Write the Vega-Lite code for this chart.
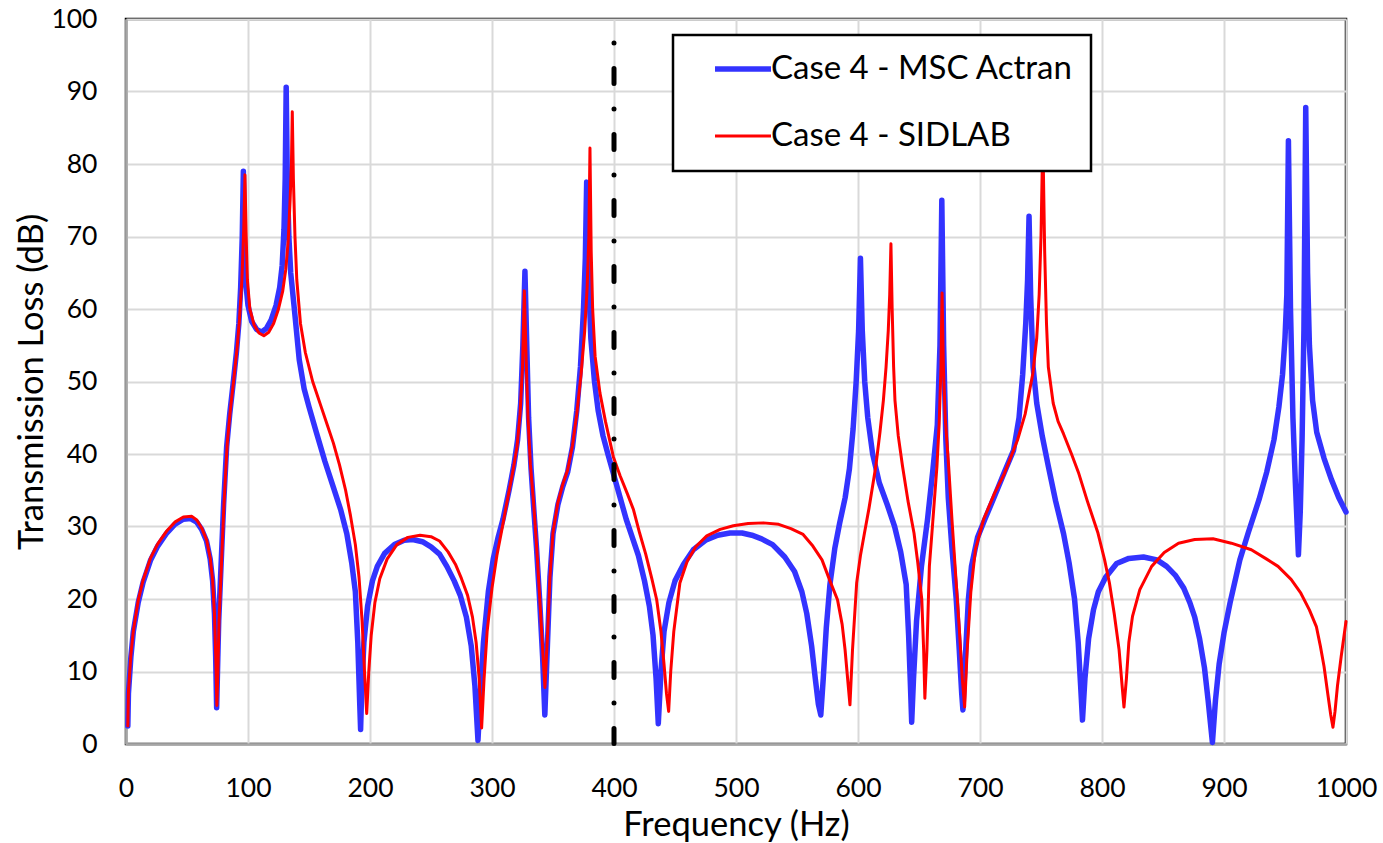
{
  "$schema": "https://vega.github.io/schema/vega-lite/v6.json",
  "width": 1220,
  "height": 725,
  "autosize": {"type": "none"},
  "padding": {"left": 126, "top": 19, "right": 37, "bottom": 99},
  "background": "white",
  "config": {
    "view": {"stroke": "black", "strokeWidth": 2.5},
    "font": "Lato",
    "axis": {
      "labelFont": "Lato",
      "labelFontSize": 26.5,
      "labelColor": "black",
      "titleFont": "Lato",
      "titleFontSize": 34.5,
      "titleFontWeight": "normal",
      "titleColor": "black",
      "ticks": false,
      "domainColor": "#a6a6a6",
      "domainWidth": 2.5,
      "gridColor": "#d9d9d9",
      "gridWidth": 2,
      "labelFlush": false,
      "labelBound": false,
      "labelOverlap": false,
      "format": "d"
    },
    "legend": {
      "orient": "none",
      "legendX": 547,
      "legendY": 16,
      "strokeColor": "black",
      "strokeWidth": 2.5,
      "fillColor": "white",
      "padding": 18,
      "clipHeight": 32,
      "rowPadding": 34,
      "symbolOffset": 21,
      "labelOffset": -3,
      "labelFont": "Lato",
      "labelFontSize": 33,
      "labelColor": "black",
      "labelLimit": 0,
      "symbolType": "stroke",
      "symbolSize": 3136
    }
  },
  "datasets": {
    "tl": [
      {"freq": 1.5, "tl": 2.5, "series": "Case 4 - MSC Actran"},
      {"freq": 2, "tl": 7, "series": "Case 4 - MSC Actran"},
      {"freq": 4, "tl": 12, "series": "Case 4 - MSC Actran"},
      {"freq": 6, "tl": 15.5, "series": "Case 4 - MSC Actran"},
      {"freq": 10, "tl": 19.5, "series": "Case 4 - MSC Actran"},
      {"freq": 14, "tl": 22.3, "series": "Case 4 - MSC Actran"},
      {"freq": 20, "tl": 25.3, "series": "Case 4 - MSC Actran"},
      {"freq": 26, "tl": 27.3, "series": "Case 4 - MSC Actran"},
      {"freq": 33, "tl": 29, "series": "Case 4 - MSC Actran"},
      {"freq": 40, "tl": 30.3, "series": "Case 4 - MSC Actran"},
      {"freq": 47, "tl": 31, "series": "Case 4 - MSC Actran"},
      {"freq": 53, "tl": 31.1, "series": "Case 4 - MSC Actran"},
      {"freq": 58, "tl": 30.6, "series": "Case 4 - MSC Actran"},
      {"freq": 62, "tl": 29.6, "series": "Case 4 - MSC Actran"},
      {"freq": 66, "tl": 28, "series": "Case 4 - MSC Actran"},
      {"freq": 69, "tl": 25.5, "series": "Case 4 - MSC Actran"},
      {"freq": 71, "tl": 22.5, "series": "Case 4 - MSC Actran"},
      {"freq": 72.5, "tl": 18, "series": "Case 4 - MSC Actran"},
      {"freq": 73.5, "tl": 12, "series": "Case 4 - MSC Actran"},
      {"freq": 74.3, "tl": 5, "series": "Case 4 - MSC Actran"},
      {"freq": 75, "tl": 10, "series": "Case 4 - MSC Actran"},
      {"freq": 76, "tl": 17, "series": "Case 4 - MSC Actran"},
      {"freq": 78, "tl": 25, "series": "Case 4 - MSC Actran"},
      {"freq": 80, "tl": 33, "series": "Case 4 - MSC Actran"},
      {"freq": 82.5, "tl": 41, "series": "Case 4 - MSC Actran"},
      {"freq": 85, "tl": 45.5, "series": "Case 4 - MSC Actran"},
      {"freq": 88, "tl": 50, "series": "Case 4 - MSC Actran"},
      {"freq": 90.5, "tl": 54, "series": "Case 4 - MSC Actran"},
      {"freq": 92.5, "tl": 58, "series": "Case 4 - MSC Actran"},
      {"freq": 94, "tl": 63, "series": "Case 4 - MSC Actran"},
      {"freq": 95.3, "tl": 70, "series": "Case 4 - MSC Actran"},
      {"freq": 96.2, "tl": 79, "series": "Case 4 - MSC Actran"},
      {"freq": 97, "tl": 70, "series": "Case 4 - MSC Actran"},
      {"freq": 98, "tl": 64, "series": "Case 4 - MSC Actran"},
      {"freq": 100, "tl": 60.5, "series": "Case 4 - MSC Actran"},
      {"freq": 103, "tl": 58.3, "series": "Case 4 - MSC Actran"},
      {"freq": 107, "tl": 57.2, "series": "Case 4 - MSC Actran"},
      {"freq": 111, "tl": 56.8, "series": "Case 4 - MSC Actran"},
      {"freq": 115, "tl": 57.3, "series": "Case 4 - MSC Actran"},
      {"freq": 119, "tl": 58.5, "series": "Case 4 - MSC Actran"},
      {"freq": 123, "tl": 60.5, "series": "Case 4 - MSC Actran"},
      {"freq": 126, "tl": 63, "series": "Case 4 - MSC Actran"},
      {"freq": 128, "tl": 66, "series": "Case 4 - MSC Actran"},
      {"freq": 129.5, "tl": 71, "series": "Case 4 - MSC Actran"},
      {"freq": 130.5, "tl": 78, "series": "Case 4 - MSC Actran"},
      {"freq": 131.3, "tl": 90.6, "series": "Case 4 - MSC Actran"},
      {"freq": 132.2, "tl": 78, "series": "Case 4 - MSC Actran"},
      {"freq": 133.5, "tl": 70, "series": "Case 4 - MSC Actran"},
      {"freq": 135, "tl": 65, "series": "Case 4 - MSC Actran"},
      {"freq": 138, "tl": 60, "series": "Case 4 - MSC Actran"},
      {"freq": 142, "tl": 53, "series": "Case 4 - MSC Actran"},
      {"freq": 146, "tl": 49, "series": "Case 4 - MSC Actran"},
      {"freq": 150, "tl": 46.5, "series": "Case 4 - MSC Actran"},
      {"freq": 156, "tl": 43, "series": "Case 4 - MSC Actran"},
      {"freq": 163, "tl": 39, "series": "Case 4 - MSC Actran"},
      {"freq": 170, "tl": 35.4, "series": "Case 4 - MSC Actran"},
      {"freq": 176, "tl": 32.3, "series": "Case 4 - MSC Actran"},
      {"freq": 181, "tl": 29, "series": "Case 4 - MSC Actran"},
      {"freq": 185, "tl": 25, "series": "Case 4 - MSC Actran"},
      {"freq": 188, "tl": 21, "series": "Case 4 - MSC Actran"},
      {"freq": 190, "tl": 14, "series": "Case 4 - MSC Actran"},
      {"freq": 191.5, "tl": 6, "series": "Case 4 - MSC Actran"},
      {"freq": 192.3, "tl": 2, "series": "Case 4 - MSC Actran"},
      {"freq": 193.3, "tl": 8, "series": "Case 4 - MSC Actran"},
      {"freq": 195, "tl": 14, "series": "Case 4 - MSC Actran"},
      {"freq": 198, "tl": 19, "series": "Case 4 - MSC Actran"},
      {"freq": 202, "tl": 22.5, "series": "Case 4 - MSC Actran"},
      {"freq": 206, "tl": 24.5, "series": "Case 4 - MSC Actran"},
      {"freq": 212, "tl": 26.3, "series": "Case 4 - MSC Actran"},
      {"freq": 220, "tl": 27.5, "series": "Case 4 - MSC Actran"},
      {"freq": 228, "tl": 28.1, "series": "Case 4 - MSC Actran"},
      {"freq": 235, "tl": 28.2, "series": "Case 4 - MSC Actran"},
      {"freq": 243, "tl": 27.9, "series": "Case 4 - MSC Actran"},
      {"freq": 250, "tl": 27.2, "series": "Case 4 - MSC Actran"},
      {"freq": 257, "tl": 26.2, "series": "Case 4 - MSC Actran"},
      {"freq": 263, "tl": 24.5, "series": "Case 4 - MSC Actran"},
      {"freq": 269, "tl": 22.5, "series": "Case 4 - MSC Actran"},
      {"freq": 274, "tl": 20.5, "series": "Case 4 - MSC Actran"},
      {"freq": 279, "tl": 17.5, "series": "Case 4 - MSC Actran"},
      {"freq": 283, "tl": 13.5, "series": "Case 4 - MSC Actran"},
      {"freq": 286, "tl": 8, "series": "Case 4 - MSC Actran"},
      {"freq": 288.5, "tl": 0.5, "series": "Case 4 - MSC Actran"},
      {"freq": 290.5, "tl": 7, "series": "Case 4 - MSC Actran"},
      {"freq": 293, "tl": 14, "series": "Case 4 - MSC Actran"},
      {"freq": 297, "tl": 21, "series": "Case 4 - MSC Actran"},
      {"freq": 301, "tl": 25.5, "series": "Case 4 - MSC Actran"},
      {"freq": 305, "tl": 28.5, "series": "Case 4 - MSC Actran"},
      {"freq": 309, "tl": 31, "series": "Case 4 - MSC Actran"},
      {"freq": 314, "tl": 35, "series": "Case 4 - MSC Actran"},
      {"freq": 318, "tl": 38.5, "series": "Case 4 - MSC Actran"},
      {"freq": 321, "tl": 42, "series": "Case 4 - MSC Actran"},
      {"freq": 323.5, "tl": 47, "series": "Case 4 - MSC Actran"},
      {"freq": 325.3, "tl": 55, "series": "Case 4 - MSC Actran"},
      {"freq": 327, "tl": 65.2, "series": "Case 4 - MSC Actran"},
      {"freq": 328.5, "tl": 55, "series": "Case 4 - MSC Actran"},
      {"freq": 330, "tl": 45, "series": "Case 4 - MSC Actran"},
      {"freq": 332, "tl": 38, "series": "Case 4 - MSC Actran"},
      {"freq": 334, "tl": 33, "series": "Case 4 - MSC Actran"},
      {"freq": 336.5, "tl": 27, "series": "Case 4 - MSC Actran"},
      {"freq": 339, "tl": 20, "series": "Case 4 - MSC Actran"},
      {"freq": 341.5, "tl": 12, "series": "Case 4 - MSC Actran"},
      {"freq": 343.3, "tl": 4, "series": "Case 4 - MSC Actran"},
      {"freq": 345.5, "tl": 14, "series": "Case 4 - MSC Actran"},
      {"freq": 347.5, "tl": 23, "series": "Case 4 - MSC Actran"},
      {"freq": 350, "tl": 29, "series": "Case 4 - MSC Actran"},
      {"freq": 354, "tl": 33, "series": "Case 4 - MSC Actran"},
      {"freq": 358, "tl": 35.5, "series": "Case 4 - MSC Actran"},
      {"freq": 362, "tl": 37.5, "series": "Case 4 - MSC Actran"},
      {"freq": 366, "tl": 41, "series": "Case 4 - MSC Actran"},
      {"freq": 369.5, "tl": 46, "series": "Case 4 - MSC Actran"},
      {"freq": 372.5, "tl": 52, "series": "Case 4 - MSC Actran"},
      {"freq": 375, "tl": 60, "series": "Case 4 - MSC Actran"},
      {"freq": 376.5, "tl": 67, "series": "Case 4 - MSC Actran"},
      {"freq": 377.6, "tl": 77.5, "series": "Case 4 - MSC Actran"},
      {"freq": 379, "tl": 65, "series": "Case 4 - MSC Actran"},
      {"freq": 381, "tl": 56, "series": "Case 4 - MSC Actran"},
      {"freq": 384, "tl": 50, "series": "Case 4 - MSC Actran"},
      {"freq": 387, "tl": 46, "series": "Case 4 - MSC Actran"},
      {"freq": 391, "tl": 42.5, "series": "Case 4 - MSC Actran"},
      {"freq": 395, "tl": 40, "series": "Case 4 - MSC Actran"},
      {"freq": 400, "tl": 37, "series": "Case 4 - MSC Actran"},
      {"freq": 405, "tl": 34, "series": "Case 4 - MSC Actran"},
      {"freq": 410, "tl": 31, "series": "Case 4 - MSC Actran"},
      {"freq": 415, "tl": 28.5, "series": "Case 4 - MSC Actran"},
      {"freq": 420, "tl": 26, "series": "Case 4 - MSC Actran"},
      {"freq": 425, "tl": 22.5, "series": "Case 4 - MSC Actran"},
      {"freq": 429, "tl": 19, "series": "Case 4 - MSC Actran"},
      {"freq": 432, "tl": 15, "series": "Case 4 - MSC Actran"},
      {"freq": 434.5, "tl": 9, "series": "Case 4 - MSC Actran"},
      {"freq": 436.3, "tl": 2.8, "series": "Case 4 - MSC Actran"},
      {"freq": 438.5, "tl": 10, "series": "Case 4 - MSC Actran"},
      {"freq": 441, "tl": 15.5, "series": "Case 4 - MSC Actran"},
      {"freq": 445, "tl": 19.5, "series": "Case 4 - MSC Actran"},
      {"freq": 450, "tl": 22.5, "series": "Case 4 - MSC Actran"},
      {"freq": 457, "tl": 24.8, "series": "Case 4 - MSC Actran"},
      {"freq": 465, "tl": 26.8, "series": "Case 4 - MSC Actran"},
      {"freq": 475, "tl": 28.1, "series": "Case 4 - MSC Actran"},
      {"freq": 485, "tl": 28.8, "series": "Case 4 - MSC Actran"},
      {"freq": 495, "tl": 29.1, "series": "Case 4 - MSC Actran"},
      {"freq": 505, "tl": 29.1, "series": "Case 4 - MSC Actran"},
      {"freq": 513, "tl": 28.8, "series": "Case 4 - MSC Actran"},
      {"freq": 521, "tl": 28.3, "series": "Case 4 - MSC Actran"},
      {"freq": 530, "tl": 27.5, "series": "Case 4 - MSC Actran"},
      {"freq": 540, "tl": 25.8, "series": "Case 4 - MSC Actran"},
      {"freq": 548, "tl": 23.8, "series": "Case 4 - MSC Actran"},
      {"freq": 554, "tl": 21, "series": "Case 4 - MSC Actran"},
      {"freq": 558, "tl": 18, "series": "Case 4 - MSC Actran"},
      {"freq": 562, "tl": 13.5, "series": "Case 4 - MSC Actran"},
      {"freq": 565, "tl": 9, "series": "Case 4 - MSC Actran"},
      {"freq": 567.5, "tl": 5.5, "series": "Case 4 - MSC Actran"},
      {"freq": 569.5, "tl": 4, "series": "Case 4 - MSC Actran"},
      {"freq": 571.5, "tl": 9, "series": "Case 4 - MSC Actran"},
      {"freq": 574, "tl": 16, "series": "Case 4 - MSC Actran"},
      {"freq": 577, "tl": 22, "series": "Case 4 - MSC Actran"},
      {"freq": 581, "tl": 27, "series": "Case 4 - MSC Actran"},
      {"freq": 585, "tl": 30.5, "series": "Case 4 - MSC Actran"},
      {"freq": 589.5, "tl": 34, "series": "Case 4 - MSC Actran"},
      {"freq": 593, "tl": 38, "series": "Case 4 - MSC Actran"},
      {"freq": 596, "tl": 43.5, "series": "Case 4 - MSC Actran"},
      {"freq": 598.5, "tl": 50, "series": "Case 4 - MSC Actran"},
      {"freq": 600.5, "tl": 57, "series": "Case 4 - MSC Actran"},
      {"freq": 602, "tl": 67, "series": "Case 4 - MSC Actran"},
      {"freq": 603.5, "tl": 57, "series": "Case 4 - MSC Actran"},
      {"freq": 605.5, "tl": 50, "series": "Case 4 - MSC Actran"},
      {"freq": 608, "tl": 45, "series": "Case 4 - MSC Actran"},
      {"freq": 612, "tl": 40, "series": "Case 4 - MSC Actran"},
      {"freq": 617.5, "tl": 36, "series": "Case 4 - MSC Actran"},
      {"freq": 624, "tl": 33, "series": "Case 4 - MSC Actran"},
      {"freq": 630, "tl": 30, "series": "Case 4 - MSC Actran"},
      {"freq": 635, "tl": 26.5, "series": "Case 4 - MSC Actran"},
      {"freq": 639.5, "tl": 22, "series": "Case 4 - MSC Actran"},
      {"freq": 641.5, "tl": 15, "series": "Case 4 - MSC Actran"},
      {"freq": 643, "tl": 8, "series": "Case 4 - MSC Actran"},
      {"freq": 644, "tl": 3, "series": "Case 4 - MSC Actran"},
      {"freq": 645.5, "tl": 9, "series": "Case 4 - MSC Actran"},
      {"freq": 648, "tl": 17, "series": "Case 4 - MSC Actran"},
      {"freq": 652, "tl": 24.5, "series": "Case 4 - MSC Actran"},
      {"freq": 657, "tl": 31, "series": "Case 4 - MSC Actran"},
      {"freq": 661.5, "tl": 38, "series": "Case 4 - MSC Actran"},
      {"freq": 665, "tl": 44, "series": "Case 4 - MSC Actran"},
      {"freq": 667.2, "tl": 55, "series": "Case 4 - MSC Actran"},
      {"freq": 668.7, "tl": 75, "series": "Case 4 - MSC Actran"},
      {"freq": 670.2, "tl": 55, "series": "Case 4 - MSC Actran"},
      {"freq": 672, "tl": 42, "series": "Case 4 - MSC Actran"},
      {"freq": 674, "tl": 34, "series": "Case 4 - MSC Actran"},
      {"freq": 677, "tl": 27, "series": "Case 4 - MSC Actran"},
      {"freq": 680.5, "tl": 20, "series": "Case 4 - MSC Actran"},
      {"freq": 683, "tl": 13, "series": "Case 4 - MSC Actran"},
      {"freq": 685, "tl": 7, "series": "Case 4 - MSC Actran"},
      {"freq": 686, "tl": 4.7, "series": "Case 4 - MSC Actran"},
      {"freq": 688, "tl": 12, "series": "Case 4 - MSC Actran"},
      {"freq": 690.5, "tl": 20, "series": "Case 4 - MSC Actran"},
      {"freq": 693, "tl": 24.5, "series": "Case 4 - MSC Actran"},
      {"freq": 698, "tl": 28.5, "series": "Case 4 - MSC Actran"},
      {"freq": 704, "tl": 31, "series": "Case 4 - MSC Actran"},
      {"freq": 712, "tl": 34.2, "series": "Case 4 - MSC Actran"},
      {"freq": 720, "tl": 37.5, "series": "Case 4 - MSC Actran"},
      {"freq": 727.5, "tl": 40.5, "series": "Case 4 - MSC Actran"},
      {"freq": 732, "tl": 45, "series": "Case 4 - MSC Actran"},
      {"freq": 735, "tl": 51, "series": "Case 4 - MSC Actran"},
      {"freq": 737.5, "tl": 58, "series": "Case 4 - MSC Actran"},
      {"freq": 739, "tl": 64, "series": "Case 4 - MSC Actran"},
      {"freq": 740.2, "tl": 72.8, "series": "Case 4 - MSC Actran"},
      {"freq": 741.5, "tl": 62, "series": "Case 4 - MSC Actran"},
      {"freq": 743.5, "tl": 52, "series": "Case 4 - MSC Actran"},
      {"freq": 746.5, "tl": 47, "series": "Case 4 - MSC Actran"},
      {"freq": 751, "tl": 42.5, "series": "Case 4 - MSC Actran"},
      {"freq": 756, "tl": 38.3, "series": "Case 4 - MSC Actran"},
      {"freq": 762, "tl": 33.5, "series": "Case 4 - MSC Actran"},
      {"freq": 768.5, "tl": 29, "series": "Case 4 - MSC Actran"},
      {"freq": 773, "tl": 25, "series": "Case 4 - MSC Actran"},
      {"freq": 777.5, "tl": 20, "series": "Case 4 - MSC Actran"},
      {"freq": 780.5, "tl": 14, "series": "Case 4 - MSC Actran"},
      {"freq": 782.5, "tl": 8, "series": "Case 4 - MSC Actran"},
      {"freq": 784, "tl": 3.3, "series": "Case 4 - MSC Actran"},
      {"freq": 786, "tl": 9, "series": "Case 4 - MSC Actran"},
      {"freq": 789, "tl": 14.5, "series": "Case 4 - MSC Actran"},
      {"freq": 793, "tl": 18.5, "series": "Case 4 - MSC Actran"},
      {"freq": 797, "tl": 21, "series": "Case 4 - MSC Actran"},
      {"freq": 803, "tl": 23, "series": "Case 4 - MSC Actran"},
      {"freq": 812, "tl": 24.9, "series": "Case 4 - MSC Actran"},
      {"freq": 822, "tl": 25.6, "series": "Case 4 - MSC Actran"},
      {"freq": 834, "tl": 25.8, "series": "Case 4 - MSC Actran"},
      {"freq": 845, "tl": 25.4, "series": "Case 4 - MSC Actran"},
      {"freq": 853, "tl": 24.5, "series": "Case 4 - MSC Actran"},
      {"freq": 860, "tl": 23.3, "series": "Case 4 - MSC Actran"},
      {"freq": 867, "tl": 21.5, "series": "Case 4 - MSC Actran"},
      {"freq": 872, "tl": 19.5, "series": "Case 4 - MSC Actran"},
      {"freq": 876, "tl": 17.5, "series": "Case 4 - MSC Actran"},
      {"freq": 880, "tl": 14.5, "series": "Case 4 - MSC Actran"},
      {"freq": 884, "tl": 10.5, "series": "Case 4 - MSC Actran"},
      {"freq": 887, "tl": 6, "series": "Case 4 - MSC Actran"},
      {"freq": 890.5, "tl": 0.2, "series": "Case 4 - MSC Actran"},
      {"freq": 893, "tl": 6, "series": "Case 4 - MSC Actran"},
      {"freq": 896, "tl": 11, "series": "Case 4 - MSC Actran"},
      {"freq": 900, "tl": 15.3, "series": "Case 4 - MSC Actran"},
      {"freq": 905, "tl": 19.5, "series": "Case 4 - MSC Actran"},
      {"freq": 913, "tl": 25.4, "series": "Case 4 - MSC Actran"},
      {"freq": 920, "tl": 29.2, "series": "Case 4 - MSC Actran"},
      {"freq": 928.7, "tl": 33.7, "series": "Case 4 - MSC Actran"},
      {"freq": 935, "tl": 37.5, "series": "Case 4 - MSC Actran"},
      {"freq": 941, "tl": 42, "series": "Case 4 - MSC Actran"},
      {"freq": 945, "tl": 46.5, "series": "Case 4 - MSC Actran"},
      {"freq": 948, "tl": 51, "series": "Case 4 - MSC Actran"},
      {"freq": 950, "tl": 56, "series": "Case 4 - MSC Actran"},
      {"freq": 951.5, "tl": 62, "series": "Case 4 - MSC Actran"},
      {"freq": 952.8, "tl": 83.2, "series": "Case 4 - MSC Actran"},
      {"freq": 954.5, "tl": 60, "series": "Case 4 - MSC Actran"},
      {"freq": 956.5, "tl": 45, "series": "Case 4 - MSC Actran"},
      {"freq": 958.5, "tl": 36, "series": "Case 4 - MSC Actran"},
      {"freq": 960, "tl": 30, "series": "Case 4 - MSC Actran"},
      {"freq": 961, "tl": 26.1, "series": "Case 4 - MSC Actran"},
      {"freq": 962.5, "tl": 32, "series": "Case 4 - MSC Actran"},
      {"freq": 964, "tl": 42, "series": "Case 4 - MSC Actran"},
      {"freq": 965.5, "tl": 57, "series": "Case 4 - MSC Actran"},
      {"freq": 967, "tl": 87.8, "series": "Case 4 - MSC Actran"},
      {"freq": 968.5, "tl": 65, "series": "Case 4 - MSC Actran"},
      {"freq": 970, "tl": 55, "series": "Case 4 - MSC Actran"},
      {"freq": 972.6, "tl": 47.4, "series": "Case 4 - MSC Actran"},
      {"freq": 976, "tl": 43, "series": "Case 4 - MSC Actran"},
      {"freq": 982, "tl": 39.4, "series": "Case 4 - MSC Actran"},
      {"freq": 988, "tl": 36.5, "series": "Case 4 - MSC Actran"},
      {"freq": 994, "tl": 34, "series": "Case 4 - MSC Actran"},
      {"freq": 1000, "tl": 32, "series": "Case 4 - MSC Actran"},

      {"freq": 1.5, "tl": 2.5, "series": "Case 4 - SIDLAB"},
      {"freq": 2, "tl": 7.2, "series": "Case 4 - SIDLAB"},
      {"freq": 4, "tl": 12.3, "series": "Case 4 - SIDLAB"},
      {"freq": 6, "tl": 15.6, "series": "Case 4 - SIDLAB"},
      {"freq": 10, "tl": 19.8, "series": "Case 4 - SIDLAB"},
      {"freq": 14, "tl": 22.6, "series": "Case 4 - SIDLAB"},
      {"freq": 20, "tl": 25.6, "series": "Case 4 - SIDLAB"},
      {"freq": 26, "tl": 27.6, "series": "Case 4 - SIDLAB"},
      {"freq": 33, "tl": 29.3, "series": "Case 4 - SIDLAB"},
      {"freq": 40, "tl": 30.6, "series": "Case 4 - SIDLAB"},
      {"freq": 47, "tl": 31.3, "series": "Case 4 - SIDLAB"},
      {"freq": 54, "tl": 31.4, "series": "Case 4 - SIDLAB"},
      {"freq": 58, "tl": 30.9, "series": "Case 4 - SIDLAB"},
      {"freq": 62, "tl": 29.8, "series": "Case 4 - SIDLAB"},
      {"freq": 66, "tl": 28.2, "series": "Case 4 - SIDLAB"},
      {"freq": 69, "tl": 25.7, "series": "Case 4 - SIDLAB"},
      {"freq": 71, "tl": 22.6, "series": "Case 4 - SIDLAB"},
      {"freq": 72.5, "tl": 18, "series": "Case 4 - SIDLAB"},
      {"freq": 73.6, "tl": 12, "series": "Case 4 - SIDLAB"},
      {"freq": 74.5, "tl": 5.3, "series": "Case 4 - SIDLAB"},
      {"freq": 75.3, "tl": 10, "series": "Case 4 - SIDLAB"},
      {"freq": 76.3, "tl": 17, "series": "Case 4 - SIDLAB"},
      {"freq": 78.3, "tl": 25, "series": "Case 4 - SIDLAB"},
      {"freq": 80.3, "tl": 33, "series": "Case 4 - SIDLAB"},
      {"freq": 83, "tl": 41.5, "series": "Case 4 - SIDLAB"},
      {"freq": 85.5, "tl": 46, "series": "Case 4 - SIDLAB"},
      {"freq": 88.5, "tl": 50.5, "series": "Case 4 - SIDLAB"},
      {"freq": 91, "tl": 54.5, "series": "Case 4 - SIDLAB"},
      {"freq": 93, "tl": 58.5, "series": "Case 4 - SIDLAB"},
      {"freq": 95, "tl": 64, "series": "Case 4 - SIDLAB"},
      {"freq": 96.5, "tl": 71, "series": "Case 4 - SIDLAB"},
      {"freq": 97.5, "tl": 78.5, "series": "Case 4 - SIDLAB"},
      {"freq": 98.5, "tl": 70, "series": "Case 4 - SIDLAB"},
      {"freq": 99.5, "tl": 64, "series": "Case 4 - SIDLAB"},
      {"freq": 101.5, "tl": 60, "series": "Case 4 - SIDLAB"},
      {"freq": 105, "tl": 57.8, "series": "Case 4 - SIDLAB"},
      {"freq": 109, "tl": 56.7, "series": "Case 4 - SIDLAB"},
      {"freq": 113, "tl": 56.3, "series": "Case 4 - SIDLAB"},
      {"freq": 117, "tl": 56.8, "series": "Case 4 - SIDLAB"},
      {"freq": 121, "tl": 58, "series": "Case 4 - SIDLAB"},
      {"freq": 125, "tl": 60, "series": "Case 4 - SIDLAB"},
      {"freq": 128.5, "tl": 62.5, "series": "Case 4 - SIDLAB"},
      {"freq": 131, "tl": 65.5, "series": "Case 4 - SIDLAB"},
      {"freq": 133, "tl": 69.5, "series": "Case 4 - SIDLAB"},
      {"freq": 134.5, "tl": 75, "series": "Case 4 - SIDLAB"},
      {"freq": 135.6, "tl": 80, "series": "Case 4 - SIDLAB"},
      {"freq": 136.3, "tl": 87.2, "series": "Case 4 - SIDLAB"},
      {"freq": 137.2, "tl": 78, "series": "Case 4 - SIDLAB"},
      {"freq": 138.5, "tl": 70, "series": "Case 4 - SIDLAB"},
      {"freq": 140, "tl": 64, "series": "Case 4 - SIDLAB"},
      {"freq": 143, "tl": 58, "series": "Case 4 - SIDLAB"},
      {"freq": 147, "tl": 54, "series": "Case 4 - SIDLAB"},
      {"freq": 153, "tl": 50, "series": "Case 4 - SIDLAB"},
      {"freq": 160, "tl": 46.5, "series": "Case 4 - SIDLAB"},
      {"freq": 165, "tl": 44, "series": "Case 4 - SIDLAB"},
      {"freq": 170, "tl": 41.5, "series": "Case 4 - SIDLAB"},
      {"freq": 175, "tl": 38.5, "series": "Case 4 - SIDLAB"},
      {"freq": 180, "tl": 35, "series": "Case 4 - SIDLAB"},
      {"freq": 184, "tl": 31.5, "series": "Case 4 - SIDLAB"},
      {"freq": 188, "tl": 27.5, "series": "Case 4 - SIDLAB"},
      {"freq": 191, "tl": 23, "series": "Case 4 - SIDLAB"},
      {"freq": 193.5, "tl": 17, "series": "Case 4 - SIDLAB"},
      {"freq": 195.5, "tl": 10, "series": "Case 4 - SIDLAB"},
      {"freq": 197.3, "tl": 4.2, "series": "Case 4 - SIDLAB"},
      {"freq": 199, "tl": 10, "series": "Case 4 - SIDLAB"},
      {"freq": 201, "tl": 15, "series": "Case 4 - SIDLAB"},
      {"freq": 204, "tl": 19.5, "series": "Case 4 - SIDLAB"},
      {"freq": 208, "tl": 22.8, "series": "Case 4 - SIDLAB"},
      {"freq": 214, "tl": 25.5, "series": "Case 4 - SIDLAB"},
      {"freq": 222, "tl": 27.5, "series": "Case 4 - SIDLAB"},
      {"freq": 231, "tl": 28.5, "series": "Case 4 - SIDLAB"},
      {"freq": 241, "tl": 28.8, "series": "Case 4 - SIDLAB"},
      {"freq": 250, "tl": 28.6, "series": "Case 4 - SIDLAB"},
      {"freq": 257, "tl": 28, "series": "Case 4 - SIDLAB"},
      {"freq": 264, "tl": 26.5, "series": "Case 4 - SIDLAB"},
      {"freq": 270, "tl": 24.8, "series": "Case 4 - SIDLAB"},
      {"freq": 275, "tl": 22.8, "series": "Case 4 - SIDLAB"},
      {"freq": 280, "tl": 20.5, "series": "Case 4 - SIDLAB"},
      {"freq": 284, "tl": 17.5, "series": "Case 4 - SIDLAB"},
      {"freq": 287, "tl": 14, "series": "Case 4 - SIDLAB"},
      {"freq": 289.5, "tl": 9, "series": "Case 4 - SIDLAB"},
      {"freq": 291.5, "tl": 2.2, "series": "Case 4 - SIDLAB"},
      {"freq": 293.5, "tl": 9, "series": "Case 4 - SIDLAB"},
      {"freq": 296, "tl": 15.5, "series": "Case 4 - SIDLAB"},
      {"freq": 300, "tl": 21.5, "series": "Case 4 - SIDLAB"},
      {"freq": 304, "tl": 26, "series": "Case 4 - SIDLAB"},
      {"freq": 308, "tl": 29.5, "series": "Case 4 - SIDLAB"},
      {"freq": 313, "tl": 34, "series": "Case 4 - SIDLAB"},
      {"freq": 317, "tl": 37.5, "series": "Case 4 - SIDLAB"},
      {"freq": 320.5, "tl": 41, "series": "Case 4 - SIDLAB"},
      {"freq": 323, "tl": 45.5, "series": "Case 4 - SIDLAB"},
      {"freq": 325, "tl": 52, "series": "Case 4 - SIDLAB"},
      {"freq": 326.5, "tl": 62.5, "series": "Case 4 - SIDLAB"},
      {"freq": 328, "tl": 53, "series": "Case 4 - SIDLAB"},
      {"freq": 329.5, "tl": 45, "series": "Case 4 - SIDLAB"},
      {"freq": 331.5, "tl": 38.5, "series": "Case 4 - SIDLAB"},
      {"freq": 334, "tl": 33.5, "series": "Case 4 - SIDLAB"},
      {"freq": 336.5, "tl": 27.5, "series": "Case 4 - SIDLAB"},
      {"freq": 339, "tl": 20.5, "series": "Case 4 - SIDLAB"},
      {"freq": 341.5, "tl": 13, "series": "Case 4 - SIDLAB"},
      {"freq": 343.4, "tl": 7.8, "series": "Case 4 - SIDLAB"},
      {"freq": 345.5, "tl": 15, "series": "Case 4 - SIDLAB"},
      {"freq": 347.5, "tl": 23, "series": "Case 4 - SIDLAB"},
      {"freq": 350, "tl": 29.2, "series": "Case 4 - SIDLAB"},
      {"freq": 354, "tl": 33.3, "series": "Case 4 - SIDLAB"},
      {"freq": 358, "tl": 35.8, "series": "Case 4 - SIDLAB"},
      {"freq": 362, "tl": 37.8, "series": "Case 4 - SIDLAB"},
      {"freq": 366, "tl": 41.2, "series": "Case 4 - SIDLAB"},
      {"freq": 369.5, "tl": 45.5, "series": "Case 4 - SIDLAB"},
      {"freq": 373, "tl": 51, "series": "Case 4 - SIDLAB"},
      {"freq": 376, "tl": 57, "series": "Case 4 - SIDLAB"},
      {"freq": 378, "tl": 63, "series": "Case 4 - SIDLAB"},
      {"freq": 379.4, "tl": 70, "series": "Case 4 - SIDLAB"},
      {"freq": 380.3, "tl": 82.2, "series": "Case 4 - SIDLAB"},
      {"freq": 381.3, "tl": 68, "series": "Case 4 - SIDLAB"},
      {"freq": 382.5, "tl": 60, "series": "Case 4 - SIDLAB"},
      {"freq": 384.5, "tl": 53.5, "series": "Case 4 - SIDLAB"},
      {"freq": 388.5, "tl": 48.4, "series": "Case 4 - SIDLAB"},
      {"freq": 393, "tl": 44.5, "series": "Case 4 - SIDLAB"},
      {"freq": 399.5, "tl": 39.6, "series": "Case 4 - SIDLAB"},
      {"freq": 405, "tl": 37, "series": "Case 4 - SIDLAB"},
      {"freq": 411, "tl": 34.5, "series": "Case 4 - SIDLAB"},
      {"freq": 416, "tl": 32.3, "series": "Case 4 - SIDLAB"},
      {"freq": 421, "tl": 29.1, "series": "Case 4 - SIDLAB"},
      {"freq": 426, "tl": 26.2, "series": "Case 4 - SIDLAB"},
      {"freq": 431, "tl": 22.8, "series": "Case 4 - SIDLAB"},
      {"freq": 435, "tl": 19.9, "series": "Case 4 - SIDLAB"},
      {"freq": 438.5, "tl": 15.5, "series": "Case 4 - SIDLAB"},
      {"freq": 441, "tl": 11, "series": "Case 4 - SIDLAB"},
      {"freq": 443, "tl": 7, "series": "Case 4 - SIDLAB"},
      {"freq": 444.8, "tl": 4.5, "series": "Case 4 - SIDLAB"},
      {"freq": 446.5, "tl": 10, "series": "Case 4 - SIDLAB"},
      {"freq": 449, "tl": 15.5, "series": "Case 4 - SIDLAB"},
      {"freq": 454, "tl": 22.2, "series": "Case 4 - SIDLAB"},
      {"freq": 460, "tl": 25.2, "series": "Case 4 - SIDLAB"},
      {"freq": 467, "tl": 27.2, "series": "Case 4 - SIDLAB"},
      {"freq": 476, "tl": 28.7, "series": "Case 4 - SIDLAB"},
      {"freq": 487, "tl": 29.6, "series": "Case 4 - SIDLAB"},
      {"freq": 497.8, "tl": 30.1, "series": "Case 4 - SIDLAB"},
      {"freq": 510, "tl": 30.4, "series": "Case 4 - SIDLAB"},
      {"freq": 522.4, "tl": 30.5, "series": "Case 4 - SIDLAB"},
      {"freq": 535, "tl": 30.3, "series": "Case 4 - SIDLAB"},
      {"freq": 545, "tl": 29.7, "series": "Case 4 - SIDLAB"},
      {"freq": 555, "tl": 28.9, "series": "Case 4 - SIDLAB"},
      {"freq": 563, "tl": 27.3, "series": "Case 4 - SIDLAB"},
      {"freq": 570.5, "tl": 25.4, "series": "Case 4 - SIDLAB"},
      {"freq": 577, "tl": 22.5, "series": "Case 4 - SIDLAB"},
      {"freq": 583.2, "tl": 19.9, "series": "Case 4 - SIDLAB"},
      {"freq": 587, "tl": 16.5, "series": "Case 4 - SIDLAB"},
      {"freq": 589.4, "tl": 13, "series": "Case 4 - SIDLAB"},
      {"freq": 591.5, "tl": 9, "series": "Case 4 - SIDLAB"},
      {"freq": 593.4, "tl": 5.4, "series": "Case 4 - SIDLAB"},
      {"freq": 595.5, "tl": 13, "series": "Case 4 - SIDLAB"},
      {"freq": 598.9, "tl": 22.2, "series": "Case 4 - SIDLAB"},
      {"freq": 602, "tl": 26, "series": "Case 4 - SIDLAB"},
      {"freq": 605.2, "tl": 29, "series": "Case 4 - SIDLAB"},
      {"freq": 609, "tl": 32.5, "series": "Case 4 - SIDLAB"},
      {"freq": 614.6, "tl": 38.3, "series": "Case 4 - SIDLAB"},
      {"freq": 618, "tl": 43, "series": "Case 4 - SIDLAB"},
      {"freq": 620.8, "tl": 47.4, "series": "Case 4 - SIDLAB"},
      {"freq": 623, "tl": 52, "series": "Case 4 - SIDLAB"},
      {"freq": 624.8, "tl": 57, "series": "Case 4 - SIDLAB"},
      {"freq": 626, "tl": 62, "series": "Case 4 - SIDLAB"},
      {"freq": 627, "tl": 69, "series": "Case 4 - SIDLAB"},
      {"freq": 628, "tl": 60, "series": "Case 4 - SIDLAB"},
      {"freq": 629.2, "tl": 52, "series": "Case 4 - SIDLAB"},
      {"freq": 630.3, "tl": 47.4, "series": "Case 4 - SIDLAB"},
      {"freq": 633, "tl": 42.5, "series": "Case 4 - SIDLAB"},
      {"freq": 636.5, "tl": 38.3, "series": "Case 4 - SIDLAB"},
      {"freq": 641, "tl": 33.5, "series": "Case 4 - SIDLAB"},
      {"freq": 645.9, "tl": 29.1, "series": "Case 4 - SIDLAB"},
      {"freq": 649, "tl": 25, "series": "Case 4 - SIDLAB"},
      {"freq": 652.3, "tl": 19.9, "series": "Case 4 - SIDLAB"},
      {"freq": 653.8, "tl": 13, "series": "Case 4 - SIDLAB"},
      {"freq": 654.8, "tl": 6.3, "series": "Case 4 - SIDLAB"},
      {"freq": 656.5, "tl": 13, "series": "Case 4 - SIDLAB"},
      {"freq": 658.5, "tl": 24.5, "series": "Case 4 - SIDLAB"},
      {"freq": 661, "tl": 30, "series": "Case 4 - SIDLAB"},
      {"freq": 664.7, "tl": 38.3, "series": "Case 4 - SIDLAB"},
      {"freq": 666.5, "tl": 44, "series": "Case 4 - SIDLAB"},
      {"freq": 668, "tl": 52, "series": "Case 4 - SIDLAB"},
      {"freq": 668.9, "tl": 62.2, "series": "Case 4 - SIDLAB"},
      {"freq": 670, "tl": 52, "series": "Case 4 - SIDLAB"},
      {"freq": 671.5, "tl": 45, "series": "Case 4 - SIDLAB"},
      {"freq": 674.3, "tl": 38.3, "series": "Case 4 - SIDLAB"},
      {"freq": 677, "tl": 31, "series": "Case 4 - SIDLAB"},
      {"freq": 680.5, "tl": 22.2, "series": "Case 4 - SIDLAB"},
      {"freq": 683, "tl": 16, "series": "Case 4 - SIDLAB"},
      {"freq": 685.5, "tl": 9, "series": "Case 4 - SIDLAB"},
      {"freq": 687.4, "tl": 5.1, "series": "Case 4 - SIDLAB"},
      {"freq": 689.5, "tl": 13, "series": "Case 4 - SIDLAB"},
      {"freq": 692.5, "tl": 21, "series": "Case 4 - SIDLAB"},
      {"freq": 696.2, "tl": 26.8, "series": "Case 4 - SIDLAB"},
      {"freq": 703, "tl": 31, "series": "Case 4 - SIDLAB"},
      {"freq": 712, "tl": 34.6, "series": "Case 4 - SIDLAB"},
      {"freq": 720, "tl": 37.3, "series": "Case 4 - SIDLAB"},
      {"freq": 730.7, "tl": 41.9, "series": "Case 4 - SIDLAB"},
      {"freq": 737, "tl": 45.5, "series": "Case 4 - SIDLAB"},
      {"freq": 743.3, "tl": 51.1, "series": "Case 4 - SIDLAB"},
      {"freq": 746.5, "tl": 56, "series": "Case 4 - SIDLAB"},
      {"freq": 748.5, "tl": 62, "series": "Case 4 - SIDLAB"},
      {"freq": 750, "tl": 70, "series": "Case 4 - SIDLAB"},
      {"freq": 751.5, "tl": 84, "series": "Case 4 - SIDLAB"},
      {"freq": 753, "tl": 68, "series": "Case 4 - SIDLAB"},
      {"freq": 754.5, "tl": 58, "series": "Case 4 - SIDLAB"},
      {"freq": 756, "tl": 52, "series": "Case 4 - SIDLAB"},
      {"freq": 760, "tl": 47, "series": "Case 4 - SIDLAB"},
      {"freq": 764, "tl": 44.5, "series": "Case 4 - SIDLAB"},
      {"freq": 768.4, "tl": 42.8, "series": "Case 4 - SIDLAB"},
      {"freq": 775, "tl": 40, "series": "Case 4 - SIDLAB"},
      {"freq": 781, "tl": 37.3, "series": "Case 4 - SIDLAB"},
      {"freq": 788, "tl": 33.5, "series": "Case 4 - SIDLAB"},
      {"freq": 796.7, "tl": 29.1, "series": "Case 4 - SIDLAB"},
      {"freq": 802, "tl": 25.5, "series": "Case 4 - SIDLAB"},
      {"freq": 806.1, "tl": 22.2, "series": "Case 4 - SIDLAB"},
      {"freq": 810, "tl": 18, "series": "Case 4 - SIDLAB"},
      {"freq": 814, "tl": 13, "series": "Case 4 - SIDLAB"},
      {"freq": 816.5, "tl": 8, "series": "Case 4 - SIDLAB"},
      {"freq": 818, "tl": 5.1, "series": "Case 4 - SIDLAB"},
      {"freq": 820, "tl": 9, "series": "Case 4 - SIDLAB"},
      {"freq": 822, "tl": 14, "series": "Case 4 - SIDLAB"},
      {"freq": 825, "tl": 17.6, "series": "Case 4 - SIDLAB"},
      {"freq": 831, "tl": 21.3, "series": "Case 4 - SIDLAB"},
      {"freq": 840.7, "tl": 24.5, "series": "Case 4 - SIDLAB"},
      {"freq": 851, "tl": 26.4, "series": "Case 4 - SIDLAB"},
      {"freq": 862.7, "tl": 27.7, "series": "Case 4 - SIDLAB"},
      {"freq": 876, "tl": 28.2, "series": "Case 4 - SIDLAB"},
      {"freq": 891, "tl": 28.3, "series": "Case 4 - SIDLAB"},
      {"freq": 906, "tl": 27.7, "series": "Case 4 - SIDLAB"},
      {"freq": 922.4, "tl": 26.8, "series": "Case 4 - SIDLAB"},
      {"freq": 935, "tl": 25.5, "series": "Case 4 - SIDLAB"},
      {"freq": 944.3, "tl": 24.5, "series": "Case 4 - SIDLAB"},
      {"freq": 955, "tl": 22.7, "series": "Case 4 - SIDLAB"},
      {"freq": 963, "tl": 20.8, "series": "Case 4 - SIDLAB"},
      {"freq": 970, "tl": 18.5, "series": "Case 4 - SIDLAB"},
      {"freq": 975.7, "tl": 16.2, "series": "Case 4 - SIDLAB"},
      {"freq": 979, "tl": 13.5, "series": "Case 4 - SIDLAB"},
      {"freq": 982, "tl": 10.7, "series": "Case 4 - SIDLAB"},
      {"freq": 985, "tl": 7, "series": "Case 4 - SIDLAB"},
      {"freq": 987.5, "tl": 4, "series": "Case 4 - SIDLAB"},
      {"freq": 989.3, "tl": 2.3, "series": "Case 4 - SIDLAB"},
      {"freq": 991, "tl": 4.5, "series": "Case 4 - SIDLAB"},
      {"freq": 993, "tl": 8, "series": "Case 4 - SIDLAB"},
      {"freq": 996, "tl": 12, "series": "Case 4 - SIDLAB"},
      {"freq": 1000, "tl": 16.9, "series": "Case 4 - SIDLAB"}
    ],
    "marker": [
      {"freq": 400, "top": 96.7, "bottom": 0}
    ]
  },
  "layer": [
    {
      "data": {"name": "tl"},
      "transform": [{"filter": "datum.series === 'Case 4 - MSC Actran'"}],
      "mark": {"type": "line", "strokeCap": "round", "strokeJoin": "round"},
      "encoding": {
        "x": {"field": "freq", "type": "quantitative", "scale": {"domain": [0, 1000], "nice": false},
          "axis": {"values": [0, 100, 200, 300, 400, 500, 600, 700, 800, 900, 1000], "title": "Frequency (Hz)", "labelPadding": 31, "titlePadding": 7}},
        "y": {"field": "tl", "type": "quantitative", "scale": {"domain": [0, 100], "nice": false},
          "axis": {"values": [0, 10, 20, 30, 40, 50, 60, 70, 80, 90, 100], "title": "Transmission Loss (dB)", "labelPadding": 29, "titlePadding": 1}},
        "color": {"field": "series", "type": "nominal",
          "scale": {"domain": ["Case 4 - MSC Actran", "Case 4 - SIDLAB"], "range": ["#3333ff", "#ff0000"]},
          "legend": {"title": null}},
        "strokeWidth": {"field": "series", "type": "nominal",
          "scale": {"domain": ["Case 4 - MSC Actran", "Case 4 - SIDLAB"], "range": [5.5, 3]},
          "legend": {"title": null}}
      }
    },
    {
      "data": {"name": "tl"},
      "transform": [{"filter": "datum.series === 'Case 4 - SIDLAB'"}],
      "mark": {"type": "line", "strokeCap": "round", "strokeJoin": "round"},
      "encoding": {
        "x": {"field": "freq", "type": "quantitative"},
        "y": {"field": "tl", "type": "quantitative"},
        "color": {"field": "series", "type": "nominal", "legend": {"title": null}},
        "strokeWidth": {"field": "series", "type": "nominal", "legend": {"title": null}}
      }
    },
    {
      "data": {"name": "marker"},
      "mark": {"type": "rule", "color": "black", "strokeWidth": 5, "strokeCap": "round", "strokeDash": [0.1, 25.5, 15, 25.4]},
      "encoding": {
        "x": {"field": "freq", "type": "quantitative"},
        "y": {"field": "top", "type": "quantitative"},
        "y2": {"field": "bottom"}
      }
    }
  ]
}
